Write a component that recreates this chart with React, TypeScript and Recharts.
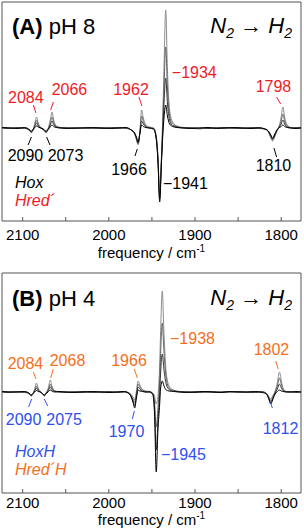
import React from "react";
import { LineChart, Line, XAxis, YAxis, ReferenceArea, ReferenceDot, ReferenceLine } from "recharts";

const FONT = '"Liberation Sans", Arial, sans-serif';
const RED = "#ee1c25";
const ORANGE = "#f36f21";
const BLUE = "#2f4fee";
const BLACK = "#000000";
const TRACE_COLORS = ["#8c8c8c", "#646464", "#363636", "#000000"];
const TICKS = [2100, 2050, 2000, 1950, 1900, 1850, 1800];

// panel A, pH 8 (frequency grid, 4 traces)
const FREQ_A = [
  2124, 2115, 2105, 2098, 2094, 2091.5, 2090, 2088, 2086, 2084,
  2082, 2079, 2076, 2073, 2070.5, 2068, 2066, 2064, 2061, 2056,
  2048, 2038, 2028, 2018, 2008, 1998, 1988, 1980, 1974, 1970,
  1968, 1966, 1964, 1962, 1960, 1957, 1953, 1948, 1945, 1943,
  1941, 1939, 1937.5, 1936, 1934, 1932, 1929.5, 1926, 1921, 1914,
  1905, 1895, 1885, 1875, 1865, 1855, 1845, 1835, 1826, 1819,
  1815, 1812, 1810, 1808, 1805, 1802, 1800, 1798, 1796, 1793,
  1789, 1784, 1777,
];
const A1 = [
  0, 0.5, -0.5, 0, -1, -3.5, -5, -2, 4, 11,
  5, 0.5, -1.5, -5, -1, 8, 16, 8, 2, 0.5,
  0, 0.5, -0.5, 0, 0.5, 0, -0.5, 0, -2, -6,
  -12, -17, -3, 18, 10, 3, 1, 0, -8, -28,
  -66, -30, 10, 60, 118, 58, 18, 6, 2, 0.5,
  0, -1, 0.5, 0, -0.5, 0, 0.5, 0, -0.5, -1,
  -4, -10, -13, -10, -3, 3, 11, 21, 11, 3,
  0.5, 0, 0,
];
const A2 = [
  0.5, 0, 0, -0.5, -1, -3, -4, -2, 3, 8,
  3.5, 0, -1.5, -4, -1, 5, 11, 5.5, 1.5, 0,
  0.5, 0, 0, -0.5, 0, 0.5, 0, -0.5, -2, -6,
  -11, -16, -4, 12, 6.5, 2, 0.5, -0.5, -9, -30,
  -69, -32, 2, 40, 81, 40, 13, 4, 1.5, 0,
  0.5, -0.5, 0, 0.5, 0, -0.5, 0, 0.5, 0, -1,
  -3.5, -9, -12, -9, -3, 2, 7, 14, 7, 2,
  0, 0.5, 0,
];
const A3 = [
  0, -0.5, 0.5, 0, -1, -3, -4, -2, 1.5, 5,
  2, 0, -1.5, -4, -1.5, 3, 7, 3.5, 1, 0.5,
  0, -0.5, 0.5, 0, -0.5, 0, 0.5, 0, -2, -5.5,
  -10, -15, -5, 7, 4, 1, 0, -1, -10, -32,
  -71, -34, -4, 24, 50, 25, 8, 2.5, 1, 0.5,
  0, 0, -0.5, 0, 0.5, 0, -0.5, 0, 0.5, -1,
  -3, -8, -11, -8, -2.5, 1, 4, 8, 4, 1,
  0.5, 0, 0.5,
];
const A4 = [
  0.5, 0, -0.5, 0.5, -0.5, -2, -3, -1.5, 0.5, 2,
  1, 0, -1, -3, -1.5, 1, 3, 1.5, 0.5, 0,
  -0.5, 0, 0, 0.5, 0, -0.5, 0, 0.5, -2, -5,
  -9, -14, -6, 3, 1.5, 0.5, 0, -1, -11, -34,
  -74, -36, -9, 10, 23, 12, 4, 1.5, 0.5, 0,
  -0.5, 0, 0.5, -0.5, 0, 0.5, 0, -0.5, 0, -1,
  -3, -7, -10, -7, -2, 0.5, 1.5, 3, 1.5, 0.5,
  0, -0.5, 0,
];

// panel B, pH 4
const FREQ_B = [
  2124, 2115, 2106, 2098, 2094, 2091.5, 2090, 2088, 2086, 2084,
  2082, 2079.5, 2077, 2075, 2072.5, 2070, 2068, 2066, 2063, 2058,
  2050, 2040, 2030, 2020, 2010, 2000, 1990, 1982, 1976, 1972,
  1970, 1968, 1966, 1964, 1961, 1957, 1953, 1949, 1947, 1945,
  1943, 1941, 1940, 1938, 1936, 1933.5, 1930, 1925, 1918, 1910,
  1900, 1890, 1880, 1870, 1860, 1850, 1840, 1830, 1822, 1817,
  1814, 1812, 1810, 1807, 1804.5, 1802, 1800, 1797.5, 1794, 1789,
  1783, 1777,
];
const B1 = [
  0, 0.5, -0.5, 0, -1, -3, -4, -1.5, 3.5, 9,
  4, 0, -2, -4, -0.5, 5, 12, 6, 1.5, 0,
  0.5, -0.5, 0, 0.5, -0.5, 0, 0.5, 0, -1, -5,
  -8, 1, 11, 7, 2.5, 1, 0.5, -1, -4, -12,
  -4, 28, 58, 101, 58, 20, 6, 2, 0.5, 0,
  0.5, -0.5, 0, 0.5, 0, -0.5, 0, 0.5, 0, -1.5,
  -5, -7, -4, 1, 9, 20, 12, 3, 0.5, 0,
  0.5, 0,
];
const B2 = [
  0.5, 0, 0, -0.5, -1, -3, -4, -1.5, 2, 6,
  2.5, 0, -2, -4, -1, 3, 8, 4, 1, 0.5,
  0, 0.5, -0.5, 0, 0.5, -0.5, 0, 0.5, -1.5, -7,
  -11, -2, 8, 5, 2, 0.5, 0, -1.5, -10, -35,
  -16, 12, 36, 69, 40, 14, 4, 1.5, 0, 0.5,
  0, 0.5, -0.5, 0, 0.5, 0, -0.5, 0, 0.5, -1.5,
  -6, -9, -6, 0, 6, 14, 8, 2, 0, 0.5,
  0, 0,
];
const B3 = [
  0, -0.5, 0.5, 0, -0.5, -2.5, -3, -1.5, 1, 4,
  1.5, 0, -1.5, -3, -1, 2, 5, 2.5, 0.5, 0,
  -0.5, 0, 0.5, -0.5, 0, 0.5, -0.5, 0, -2, -9,
  -14, -4, 5, 3, 1, 0, 0.5, -2, -16, -58,
  -28, -2, 18, 38, 22, 8, 2.5, 1, 0.5, 0,
  -0.5, 0, 0.5, -0.5, 0, 0.5, 0, -0.5, 0, -2,
  -7, -11, -7, -1, 3, 8, 4.5, 1, 0.5, 0,
  -0.5, 0,
];
const B4 = [
  0.5, 0, 0, 0.5, -0.5, -2, -3, -1.5, 0, 1.5,
  0.5, 0, -1.5, -3, -1.5, 0.5, 2, 1, 0, 0.5,
  0, -0.5, 0, 0.5, 0, -0.5, 0, 0.5, -2, -10,
  -16, -6, 2, 1, 0.5, 0, 0, -2.5, -22, -80,
  -38, -12, 3, 11, 6, 2, 1, 0.5, 0, -0.5,
  0, 0.5, 0, -0.5, 0.5, 0, 0, 0.5, -0.5, -2,
  -8, -12, -8, -2, 0.5, 2, 1, 0.5, 0, 0,
  0.5, 0,
];

// peak labels: [text, frequency, y, colour, left-anchored]
const LABELS_A: [string, number, number, string, boolean?][] = [
  ["2084", 2096.4, 31, RED],
  ["2066", 2045.7, 39, RED],
  ["1962", 1974.3, 39, RED],
  ["\u22121934", 1926.9, 56, RED, true],
  ["1798", 1809, 42, RED],
  ["2090", 2096.8, -27, BLACK],
  ["2073", 2050.3, -27, BLACK],
  ["1966", 1976.6, -41, BLACK],
  ["\u22121941", 1937.2, -55, BLACK, true],
  ["1810", 1809, -37, BLACK],
];
const LEADERS_A: [number, number, number, number, string][] = [
  [2087.6, 23, 2084.6, 15, RED],
  [2064.4, 26, 2067.5, 18, RED],
  [1965.1, 31, 1961.6, 22, RED],
  [1805.3, 31, 1800.6, 24, RED],
  [2089.9, -9, 2093.7, -17, BLACK],
  [2072.2, -9, 2068.3, -17, BLACK],
  [1967, -21, 1969.7, -28, BLACK],
  [1808.4, -20, 1805.3, -29, BLACK],
];
const LABELS_B: [string, number, number, string, boolean?][] = [
  ["2084", 2096.8, 29, ORANGE],
  ["2068", 2048, 32, ORANGE],
  ["1966", 1976.6, 32, ORANGE],
  ["\u22121938", 1929, 54, ORANGE, true],
  ["1802", 1811.3, 43, ORANGE],
  ["2090", 2099, -27, BLUE],
  ["2075", 2052, -27, BLUE],
  ["1970", 1979.5, -39, BLUE],
  ["\u22121945", 1939.5, -62, BLUE, true],
  ["1812", 1800.8, -36, BLUE],
];
const LEADERS_B: [number, number, number, number, string][] = [
  [2087.6, 20, 2084.6, 13, ORANGE],
  [2064.4, 23, 2067.5, 14, ORANGE],
  [1970.5, 23, 1967, 14, ORANGE],
  [1806.4, 31, 1803.4, 23, ORANGE],
  [2089.6, -7, 2093.1, -15, BLUE],
  [2075, -7, 2071, -14, BLUE],
  [1970.4, -19, 1972.7, -27, BLUE],
  [1812.9, -10, 1810.2, -16, BLUE],
];

const X_DOMAIN: [number, number] = [1777, 2124];

type PanelProps = {
  freq: number[];
  traces: number[][];
  yDomain: [number, number];
  top: number;
  marginTop: number;
  axisHeight: number;
  tickMargin: number;
  titleDy: number;
  tag: string;
  ph: string;
  labels: [string, number, number, string, boolean?][];
  leaders: [number, number, number, number, string][];
  legend: [string, string][];
  titleY: number;
  legendY: number;
};

function Panel(p: PanelProps) {
  const data = p.freq.map((f, i) => ({
    f,
    t0: p.traces[0][i],
    t1: p.traces[1][i],
    t2: p.traces[2][i],
    t3: p.traces[3][i],
  }));
  const [ymin, ymax] = p.yDomain;
  return (
    <div style={{ position: "absolute", left: 0, top: p.top }}>
      <LineChart
        width={304}
        height={266}
        data={data}
        margin={{ top: p.marginTop, right: 3, bottom: 0, left: 2 }}
      >
        <XAxis
          dataKey="f"
          type="number"
          domain={X_DOMAIN}
          reversed
          allowDataOverflow
          ticks={TICKS}
          interval={0}
          tickFormatter={(v: number) => (v % 100 === 0 ? String(v) : "")}
          height={p.axisHeight}
          axisLine={false}
          tickSize={-4}
          tickMargin={p.tickMargin}
          tickLine={{ stroke: "#555" }}
          tick={{ fill: "#000", fontSize: 15, fontFamily: FONT }}
        />
        <YAxis type="number" domain={p.yDomain} hide allowDataOverflow />
        {[0, 1, 2, 3].map((k) => (
          <Line
            key={k}
            dataKey={"t" + k}
            type="monotone"
            stroke={TRACE_COLORS[k]}
            strokeWidth={1}
            dot={false}
            isAnimationActive={false}
          />
        ))}
        <ReferenceArea
          x1={X_DOMAIN[1]}
          x2={X_DOMAIN[0]}
          y1={ymin}
          y2={ymax}
          fill="none"
          stroke="#555"
          strokeWidth={1}
          ifOverflow="visible"
        />
        {p.leaders.map(([fa, va, fb, vb, c], i) => (
          <ReferenceLine
            key={"l" + i}
            segment={[{ x: fa, y: va }, { x: fb, y: vb }]}
            stroke={c}
            strokeWidth={1}
            ifOverflow="visible"
          />
        ))}
        {p.labels.map(([t, f, v, c, start], i) => (
          <ReferenceDot
            key={"t" + i}
            x={f}
            y={v}
            r={0}
            ifOverflow="visible"
            shape={(s: any) => (
              <text
                x={s.cx}
                y={s.cy}
                fill={c}
                fontSize={16}
                fontFamily={FONT}
                textAnchor={start ? "start" : "middle"}
                dominantBaseline="central"
              >
                {t}
              </text>
            )}
          />
        ))}
        {p.legend.map(([t, c], i) => (
          <ReferenceDot
            key={"g" + i}
            x={2109}
            y={p.legendY - i * 18}
            r={0}
            ifOverflow="visible"
            shape={(s: any) => (
              <text
                x={s.cx}
                y={s.cy}
                fill={c}
                fontSize={16}
                fontStyle="italic"
                fontFamily={FONT}
                dominantBaseline="central"
              >
                {t}
              </text>
            )}
          />
        ))}
        <ReferenceDot
          x={2112.4}
          y={p.titleY}
          r={0}
          ifOverflow="visible"
          shape={(s: any) => (
            <text x={s.cx} y={s.cy} fontSize={22} fontFamily={FONT} fill="#000" dominantBaseline="central">
              <tspan fontWeight="bold">{p.tag}</tspan> {p.ph}
            </text>
          )}
        />
        <ReferenceDot
          x={1787.5}
          y={p.titleY}
          r={0}
          ifOverflow="visible"
          shape={(s: any) => (
            <text
              x={s.cx}
              y={s.cy + 7}
              fontSize={22}
              fontFamily={FONT}
              fill="#000"
              textAnchor="end"
              fontStyle="italic"
            >
              N<tspan dy={5} fontSize={14}>2</tspan>
              <tspan dy={-5} fontStyle="normal"> {"\u2192"} </tspan>H
              <tspan dy={5} fontSize={14}>2</tspan>
            </text>
          )}
        />
        <ReferenceDot
          x={(X_DOMAIN[0] + X_DOMAIN[1]) / 2}
          y={ymin}
          r={0}
          ifOverflow="visible"
          shape={(s: any) => (
            <text x={s.cx} y={s.cy + p.titleDy} fontSize={15} fontFamily={FONT} fill="#000" textAnchor="middle">
              frequency / cm<tspan dy={-6} fontSize={10}>-1</tspan>
            </text>
          )}
        />
      </LineChart>
    </div>
  );
}

export default function App() {
  return (
    <div style={{ position: "absolute", left: 0, top: 0, width: 304, height: 532, background: "#fff" }}>
      <Panel
        freq={FREQ_A}
        traces={[A1, A2, A3, A4]}
        yDomain={[-93, 126]}
        top={0}
        marginTop={2}
        axisHeight={45}
        tickMargin={12}
        titleDy={37}
        tag="(A)"
        ph="pH 8"
        labels={LABELS_A}
        leaders={LEADERS_A}
        legend={[["Hox", BLACK], ["Hred\u00b4", RED]]}
        titleY={102}
        legendY={-54}
      />
      <Panel
        freq={FREQ_B}
        traces={[B1, B2, B3, B4]}
        yDomain={[-101, 119]}
        top={266}
        marginTop={7}
        axisHeight={39}
        tickMargin={8}
        titleDy={32}
        tag="(B)"
        ph="pH 4"
        labels={LABELS_B}
        leaders={LEADERS_B}
        legend={[["HoxH", BLUE], ["Hred\u00b4H", ORANGE]]}
        titleY={94}
        legendY={-59}
      />
    </div>
  );
}
